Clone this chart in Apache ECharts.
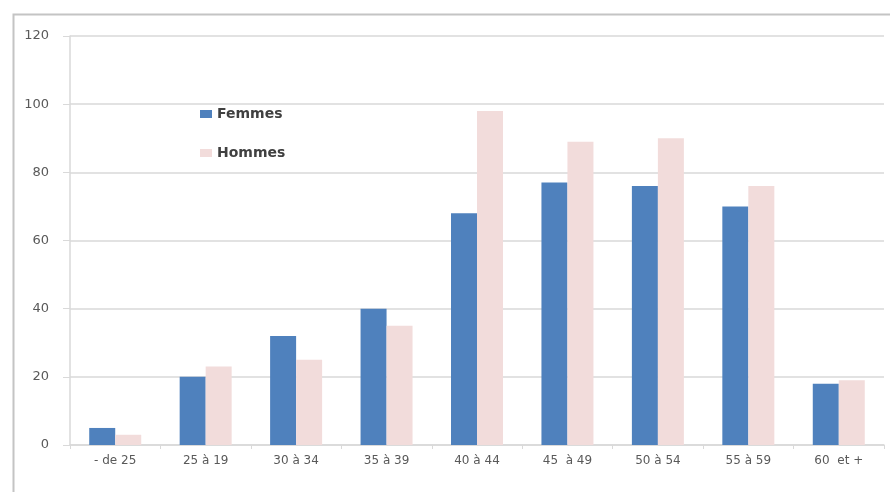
<!DOCTYPE html>
<html>
<head>
<meta charset="utf-8">
<script src="https://cdn.jsdelivr.net/npm/echarts@6/dist/echarts.min.js"></script>
<style>
  html, body { margin: 0; padding: 0; background: #fff; }
  #chart { width: 890px; height: 492px; }
</style>
</head>
<body>
<div id="chart"></div>
<script>
// Age groups along the x axis
const categories = ['- de 25', '25 à 19', '30 à 34', '35 à 39', '40 à 44', '45  à 49', '50 à 54', '55 à 59', '60  et +'];
// Headcount per age group
const femmes = [5, 20, 32, 40, 68, 77, 76, 70, 18];
const hommes = [3, 23, 25, 35, 98, 89, 90, 76, 19];
// Value axis ticks
const yTicks = [0, 20, 40, 60, 80, 100, 120];

const chart = echarts.init(document.getElementById('chart'), null, { renderer: 'canvas' });

const axisGray = '#d9d9d9';
const labelGray = '#595959';

chart.setOption({
  animation: false,
  backgroundColor: '#ffffff',
  textStyle: { fontFamily: 'DejaVu Sans' },
  graphic: [{
    type: 'rect',
    left: 11, top: 12,
    shape: { width: 900, height: 500 },
    style: { fill: 'none', stroke: '#c4c4c4', lineWidth: 2 },
    silent: true
  }],
  grid: { left: 70, right: 6, top: 36, bottom: 47, containLabel: false },
  legend: {
    orient: 'vertical',
    left: 195, top: 102,
    itemWidth: 12, itemHeight: 8,
    itemGap: 25,
    icon: 'rect',
    textStyle: { fontSize: 14, fontWeight: 'bold', color: '#404040', fontFamily: 'DejaVu Sans' },
    data: ['Femmes', 'Hommes']
  },
  xAxis: {
    type: 'category',
    data: categories,
    axisLine: { lineStyle: { color: axisGray, width: 1.5 } },
    axisTick: { show: true, length: 4, alignWithLabel: false, lineStyle: { color: axisGray } },
    axisLabel: { color: labelGray, fontSize: 12, margin: 10, fontFamily: 'DejaVu Sans' },
    splitLine: { show: false }
  },
  yAxis: {
    type: 'value',
    min: yTicks[0],
    max: yTicks[yTicks.length - 1],
    interval: yTicks[1] - yTicks[0],
    axisLine: { show: true, lineStyle: { color: axisGray, width: 1.5 } },
    axisTick: { show: true, length: 7, lineStyle: { color: axisGray } },
    axisLabel: { color: labelGray, fontSize: 13, margin: 21, fontFamily: 'DejaVu Sans' },
    splitLine: { show: true, lineStyle: { color: axisGray, width: 1.5 } }
  },
  series: [
    {
      name: 'Femmes',
      type: 'bar',
      data: femmes,
      barWidth: 26,
      barGap: '0%',
      itemStyle: { color: '#4f81bd' }
    },
    {
      name: 'Hommes',
      type: 'bar',
      data: hommes,
      barWidth: 26,
      itemStyle: { color: '#f2dcdb' }
    }
  ]
});
</script>
</body>
</html>
